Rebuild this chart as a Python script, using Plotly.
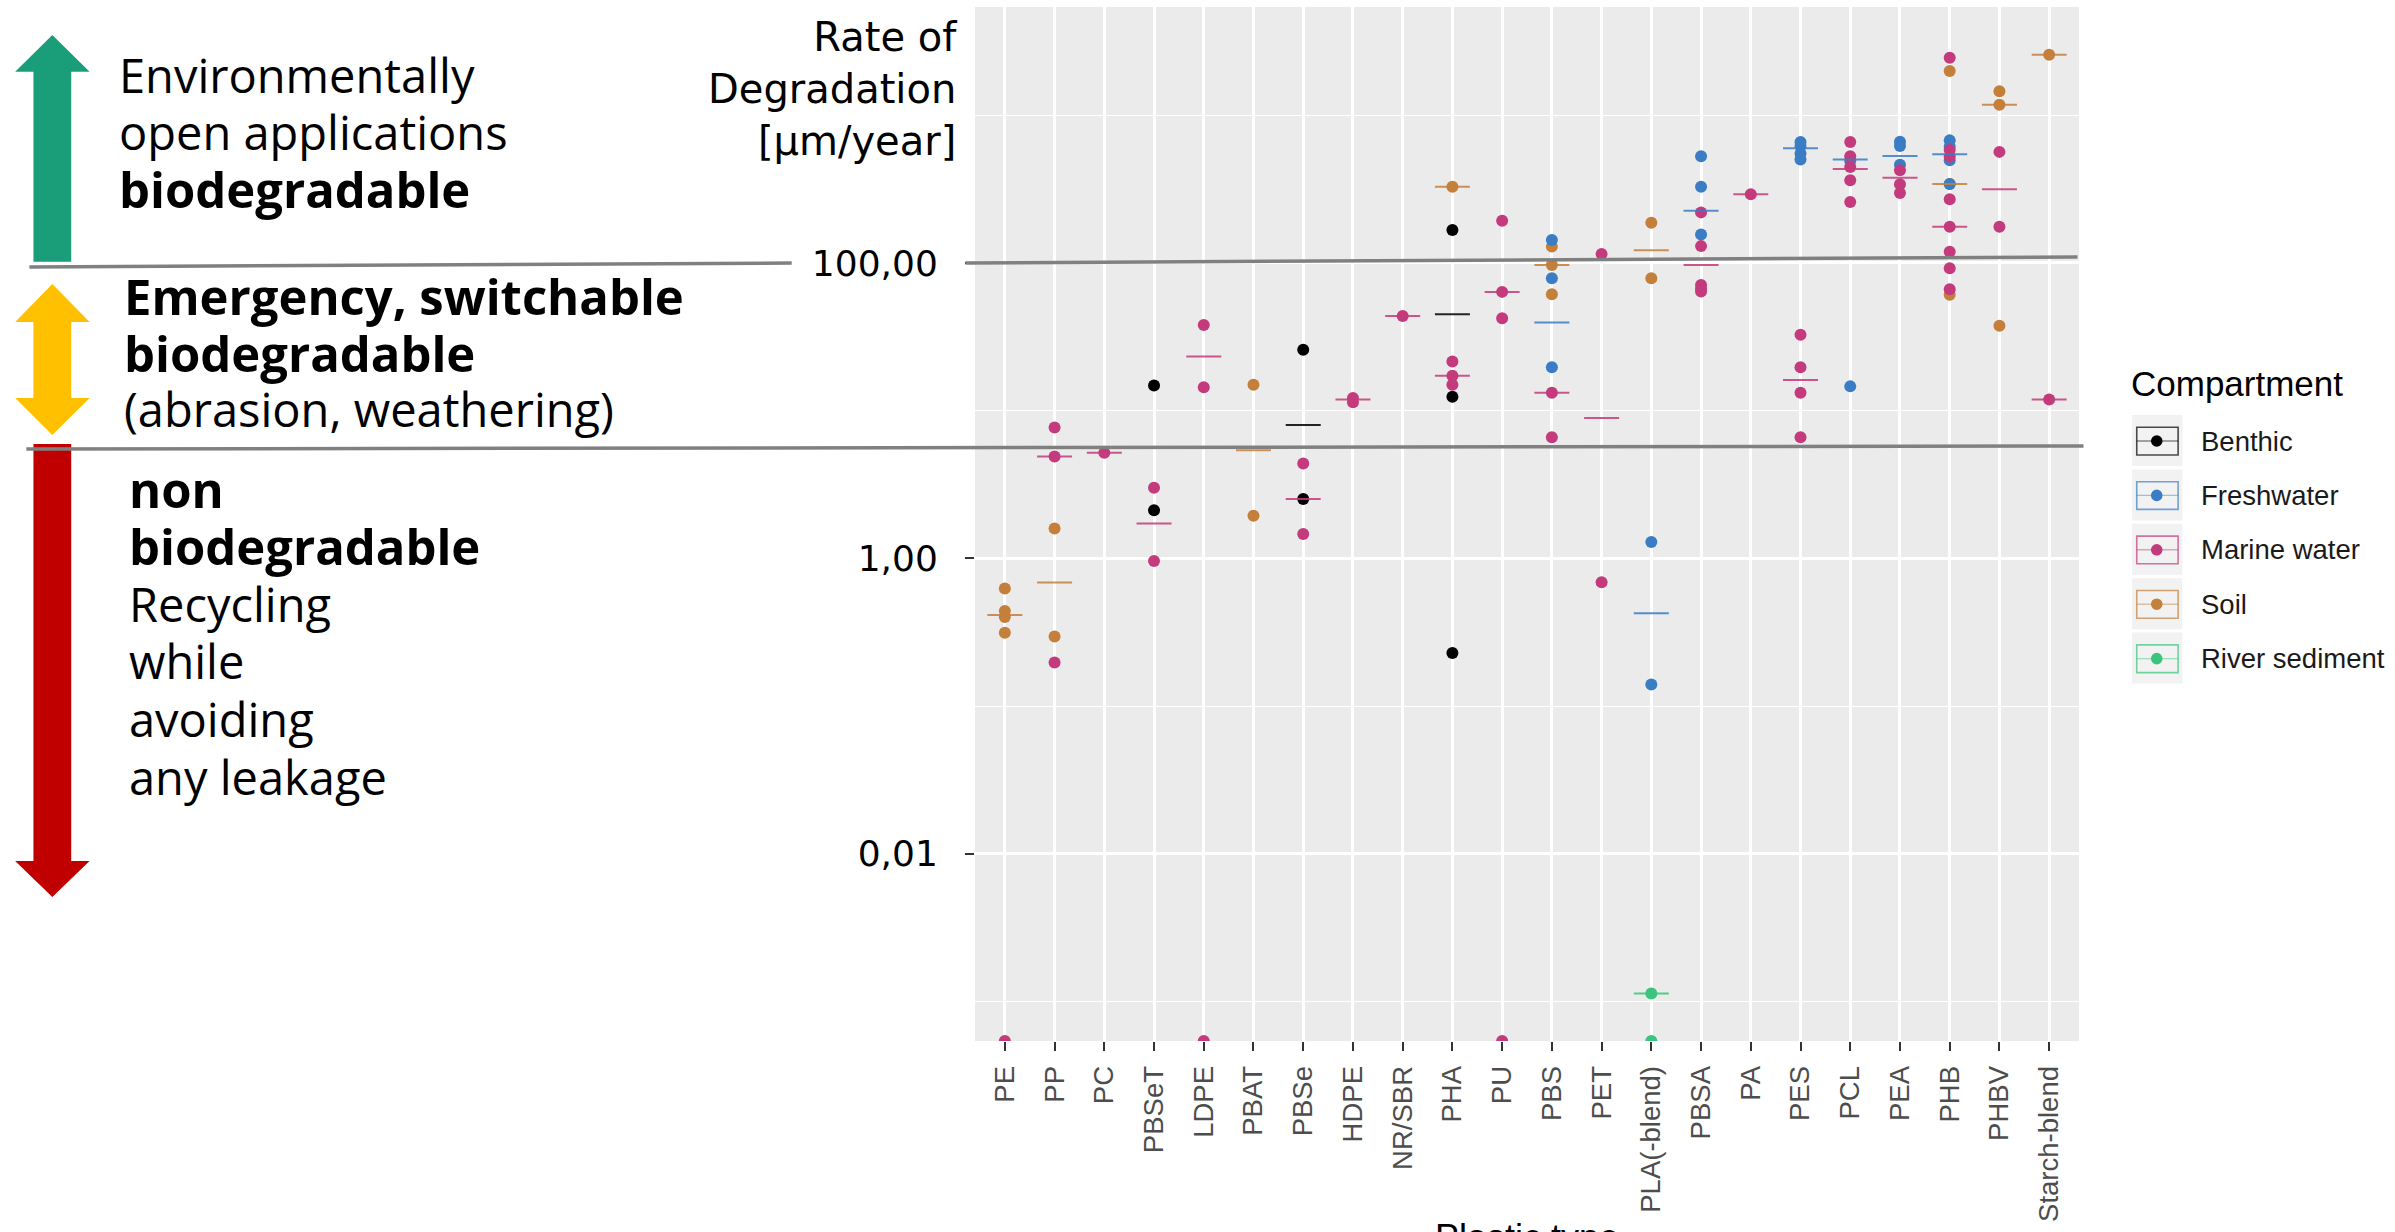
import plotly.graph_objects as go

# ---------------- data ----------------
CATEGORIES = ["PE", "PP", "PC", "PBSeT", "LDPE", "PBAT", "PBSe", "HDPE", "NR/SBR", "PHA",
              "PU", "PBS", "PET", "PLA(-blend)", "PBSA", "PA", "PES", "PCL", "PEA", "PHB",
              "PHBV", "Starch-blend"]

COMPARTMENTS = ["Benthic", "Freshwater", "Marine water", "Soil", "River sediment"]

# 0 = rate of zero (drawn at the lower panel edge, like -Inf on a log scale)
benthic_type = ["PBSeT", "PBSeT", "PBSe", "PBSe", "PHA", "PHA", "PHA"]
benthic_rate = [14.8, 2.12, 25.8, 2.52, 167, 12.4, 0.229]

freshwater_type = ["PBS", "PBS", "PBS", "PLA(-blend)", "PLA(-blend)", "PBSA", "PBSA", "PBSA",
                   "PES", "PES", "PES", "PES", "PCL", "PCL", "PEA", "PEA", "PEA",
                   "PHB", "PHB", "PHB", "PHB"]
freshwater_rate = [143, 78.7, 19.7, 1.29, 0.14, 528, 328, 156,
                   659, 620, 551, 502, 490, 14.6, 661, 620, 463,
                   676, 611, 496, 342]

marine_type = ["PE", "PP", "PP", "PP", "PC", "PBSeT", "PBSeT", "LDPE", "LDPE", "LDPE",
               "PBSe", "PBSe", "HDPE", "HDPE", "NR/SBR", "PHA", "PHA", "PHA",
               "PU", "PU", "PU", "PU", "PBS", "PBS", "PET", "PET",
               "PBSA", "PBSA", "PBSA", "PBSA", "PBSA", "PA",
               "PES", "PES", "PES", "PES", "PCL", "PCL", "PCL", "PCL", "PCL",
               "PEA", "PEA", "PEA", "PHB", "PHB", "PHB", "PHB", "PHB", "PHB", "PHB", "PHB",
               "PHBV", "PHBV", "Starch-blend"]
marine_rate = [0, 7.7, 4.9, 0.197, 5.19, 3.01, 0.96, 38, 14.4, 0,
               4.39, 1.46, 12.2, 11.4, 43.8, 21.5, 17.2, 15.0,
               193, 63.7, 42.3, 0, 13.2, 6.6, 115, 0.69,
               220, 130, 71, 67, 64, 292,
               32.7, 19.7, 13.2, 6.6, 659, 527, 447, 363, 259,
               425, 341, 298, 2455, 581, 523, 270, 176, 119, 92, 66.4,
               565, 176, 11.9]

soil_type = ["PE", "PE", "PE", "PE", "PP", "PP", "PBAT", "PBAT", "PHA", "PBS", "PBS", "PBS",
             "PLA(-blend)", "PLA(-blend)", "PHB", "PHB", "PHB", "PHBV", "PHBV", "PHBV",
             "Starch-blend"]
soil_rate = [0.624, 0.44, 0.40, 0.313, 1.59, 0.296, 15.0, 1.94, 328, 129, 96.9, 61.4,
             187, 78.7, 1995, 342, 60.8, 1452, 1180, 37.5, 2570]

river_type = ["PLA(-blend)", "PLA(-blend)"]
river_rate = [0.00113, 0]

# summary bars (median per plastic type and compartment)
benthic_med_type = ["PBSeT", "PBSe", "PHA"]
benthic_med = [5.6, 8.0, 45]
freshwater_med_type = ["PBS", "PLA(-blend)", "PBSA", "PES", "PCL", "PEA", "PHB"]
freshwater_med = [39.5, 0.424, 226, 599, 501, 530, 545]
marine_med_type = ["PP", "PC", "PBSeT", "LDPE", "PBSe", "HDPE", "NR/SBR", "PHA", "PU", "PBS",
                   "PET", "PBSA", "PA", "PES", "PCL", "PEA", "PHB", "PHBV", "Starch-blend"]
marine_med = [4.9, 5.19, 1.72, 23.3, 2.52, 11.9, 43.8, 17.2, 63.7, 13.2,
              8.9, 97, 292, 16.1, 433, 378, 176, 315, 11.9]
soil_med_type = ["PE", "PP", "PBAT", "PHA", "PBS", "PLA(-blend)", "PHB", "PHBV", "Starch-blend"]
soil_med = [0.414, 0.687, 5.4, 328, 96.9, 122, 342, 1180, 2570]
river_med_type = ["PLA(-blend)"]
river_med = [0.00113]

Y_TICKS = [0.01, 1, 100]
Y_TICKTEXT = ["0,01", "1,00", "100,00"]
Y_MINOR = [0.001, 0.1, 10, 1000]

# ---------------- styles ----------------
COLORS = {"Benthic": (0, 0, 0), "Freshwater": (58, 125, 196), "Marine water": (196, 59, 125),
          "Soil": (196, 127, 59), "River sediment": (59, 196, 125)}


def rgb(c, a=1.0):
    return f"rgba({c[0]},{c[1]},{c[2]},{a})"


POINTS = {"Benthic": (benthic_type, benthic_rate), "Freshwater": (freshwater_type, freshwater_rate),
          "Marine water": (marine_type, marine_rate), "Soil": (soil_type, soil_rate),
          "River sediment": (river_type, river_rate)}
MEDS = {"Benthic": (benthic_med_type, benthic_med), "Freshwater": (freshwater_med_type, freshwater_med),
        "Marine water": (marine_med_type, marine_med), "Soil": (soil_med_type, soil_med),
        "River sediment": (river_med_type, river_med)}
DRAW_ORDER = ["Soil", "Benthic", "Freshwater", "Marine water", "River sediment"]

W, H = 2395, 1232
L, R, T, B = 974.5, 2079.5, 7, 1041
Y_MIN, Y_MAX = -3.268, 3.733
PW, PH = R - L, B - T


def px(x):
    return (x - L) / PW


def py(y):
    return (B - y) / PH


fig = go.Figure()
for comp in DRAW_ORDER:
    t, v = POINTS[comp]
    yy = [val if val > 0 else 10 ** Y_MIN for val in v]
    fig.add_trace(go.Scatter(x=t, y=yy, mode="markers", name=comp, showlegend=False,
                             marker=dict(size=12, color=rgb(COLORS[comp]), line=dict(width=0))))
for comp in DRAW_ORDER:
    t, v = MEDS[comp]
    fig.add_trace(go.Scatter(x=t, y=v, mode="markers", name=comp + " median", showlegend=False,
                             marker=dict(symbol="line-ew", size=25, color=rgb(COLORS[comp], 0.85),
                                         line=dict(width=2, color=rgb(COLORS[comp], 0.85)))))

shapes = []
annotations = []


def arrow_up(top, head_base, bottom, color):
    return dict(type="path", xref="paper", yref="paper", fillcolor=color, line=dict(width=0), layer="above",
                path=(f"M {px(51)} {py(top)} L {px(88.3)} {py(head_base)} L {px(69.9)} {py(head_base)} "
                      f"L {px(69.9)} {py(bottom)} L {px(32.1)} {py(bottom)} L {px(32.1)} {py(head_base)} "
                      f"L {px(13.8)} {py(head_base)} Z"))


shapes.append(arrow_up(35, 71.7, 261.7, "#1a9e7a"))
shapes.append(dict(type="path", xref="paper", yref="paper", fillcolor="#ffc000", line=dict(width=0), layer="above",
                   path=(f"M {px(51)} {py(284)} L {px(88.3)} {py(322)} L {px(69.9)} {py(322)} "
                         f"L {px(69.9)} {py(398)} L {px(88.3)} {py(398)} L {px(51)} {py(435)} "
                         f"L {px(13.8)} {py(398)} L {px(32.1)} {py(398)} L {px(32.1)} {py(322)} "
                         f"L {px(13.8)} {py(322)} Z")))
shapes.append(dict(type="path", xref="paper", yref="paper", fillcolor="#c00000", line=dict(width=0), layer="above",
                   path=(f"M {px(32.1)} {py(444)} L {px(69.9)} {py(444)} L {px(69.9)} {py(861)} "
                         f"L {px(88.3)} {py(861)} L {px(51)} {py(897)} L {px(13.8)} {py(861)} "
                         f"L {px(32.1)} {py(861)} Z")))

# grey threshold lines
for (x0, y0, x1, y1) in [(28, 267, 791, 263), (965, 263, 2078, 257), (25, 449, 2084, 446)]:
    shapes.append(dict(type="line", xref="paper", yref="paper", x0=px(x0), y0=py(y0), x1=px(x1), y1=py(y1),
                       line=dict(color="#808080", width=3.5), layer="above"))

# left texts
TXT_FONT = "Open Sans, Noto Sans, sans-serif"
left_lines = [
    (116, 93, "Environmentally", False), (116, 150, "open applications", False), (116, 208, "biodegradable", True),
    (121, 315, "Emergency, switchable", True), (121, 372, "biodegradable", True),
    (121, 427, "(abrasion, weathering)", False),
    (126, 508, "non", True), (126, 565, "biodegradable", True), (126, 622, "Recycling", False),
    (126, 679, "while", False), (126, 737, "avoiding", False), (126, 795, "any leakage", False),
]
for x, base, txt, bold in left_lines:
    size = 49 if bold else 47
    annotations.append(dict(xref="paper", yref="paper", x=px(x), y=py(base - 0.385 * size), xanchor="left",
                            yanchor="middle", text=f"<b>{txt}</b>" if bold else txt, showarrow=False,
                            font=dict(family=TXT_FONT, size=size, color="black")))

# y title
annotations.append(dict(xref="paper", yref="paper", x=px(958), y=py(89), xanchor="right", yanchor="middle",
                        align="right", text="Rate of<br>Degradation<br>[µm/year]", showarrow=False,
                        font=dict(family="DejaVu Sans", size=40, color="black")))
# x title (cut at the bottom, as in the original)
annotations.append(dict(xref="paper", yref="paper", x=px(1527), y=py(1237), xanchor="center", yanchor="middle",
                        text="Plastic type", showarrow=False,
                        font=dict(family="Liberation Sans, Arial", size=36, color="black")))

# custom legend (crossbar + point keys)
annotations.append(dict(xref="paper", yref="paper", x=px(2130), y=py(383), xanchor="left", yanchor="middle",
                        text="Compartment", showarrow=False,
                        font=dict(family="Liberation Sans, Arial", size=35, color="black")))
for i, comp in enumerate(COMPARTMENTS):
    top = 415 + 54.4 * i
    c = COLORS[comp]
    cy = top + 26
    shapes.append(dict(type="rect", xref="paper", yref="paper", x0=px(2132.5), x1=px(2183), y0=py(top),
                       y1=py(top + 51), fillcolor="#f2f2f2", line=dict(width=0), layer="above"))
    shapes.append(dict(type="rect", xref="paper", yref="paper", x0=px(2137.3), x1=px(2178.7), y0=py(top + 12.3),
                       y1=py(top + 40), fillcolor="rgba(0,0,0,0)", line=dict(width=1.6, color=rgb(c, 0.7)),
                       layer="above"))
    shapes.append(dict(type="line", xref="paper", yref="paper", x0=px(2137.3), x1=px(2178.7), y0=py(cy),
                       y1=py(cy), line=dict(width=1.4, color=rgb(c, 0.45)), layer="above"))
    shapes.append(dict(type="circle", xref="paper", yref="paper", x0=px(2157.3 - 5.8), x1=px(2157.3 + 5.8),
                       y0=py(cy - 5.8), y1=py(cy + 5.8), fillcolor=rgb(c), line=dict(width=0), layer="above"))
    annotations.append(dict(xref="paper", yref="paper", x=px(2200), y=py(cy), xanchor="left", yanchor="middle",
                            text=comp, showarrow=False,
                            font=dict(family="Liberation Sans, Arial", size=27.5, color="#1a1a1a")))

fig.update_layout(
    width=W, height=H,
    margin=dict(l=L, r=W - R, t=T, b=H - B, autoexpand=False),
    paper_bgcolor="white", plot_bgcolor="#ebebeb", showlegend=False,
    shapes=shapes, annotations=annotations,
    xaxis=dict(type="category", categoryorder="array", categoryarray=CATEGORIES,
               range=[-0.6, len(CATEGORIES) - 0.4], showgrid=True, gridcolor="white", gridwidth=2.6,
               ticks="outside", ticklen=9, tickwidth=2.4, tickcolor="#333333", tickangle=-90,
               tickfont=dict(family="Liberation Sans, Arial", size=27.5, color="#4d4d4d"),
               automargin=False, showline=False, zeroline=False, ticklabelstandoff=4),
    yaxis=dict(type="log", range=[Y_MIN, Y_MAX], tickmode="array", tickvals=Y_TICKS, ticktext=Y_TICKTEXT,
               showgrid=True, gridcolor="white", gridwidth=2.6,
               minor=dict(tickmode="array", tickvals=Y_MINOR, showgrid=True, gridcolor="white",
                          gridwidth=1.3, ticks=""),
               ticks="outside", ticklen=9, tickwidth=2.4, tickcolor="#333333",
               tickfont=dict(family="DejaVu Sans", size=36, color="black"),
               automargin=False, showline=False, zeroline=False, ticklabelstandoff=20),
)

fig.write_html("out.html", config={"displayModeBar": False},
               post_script="document.body.style.margin='0';document.body.style.overflow='hidden';")
